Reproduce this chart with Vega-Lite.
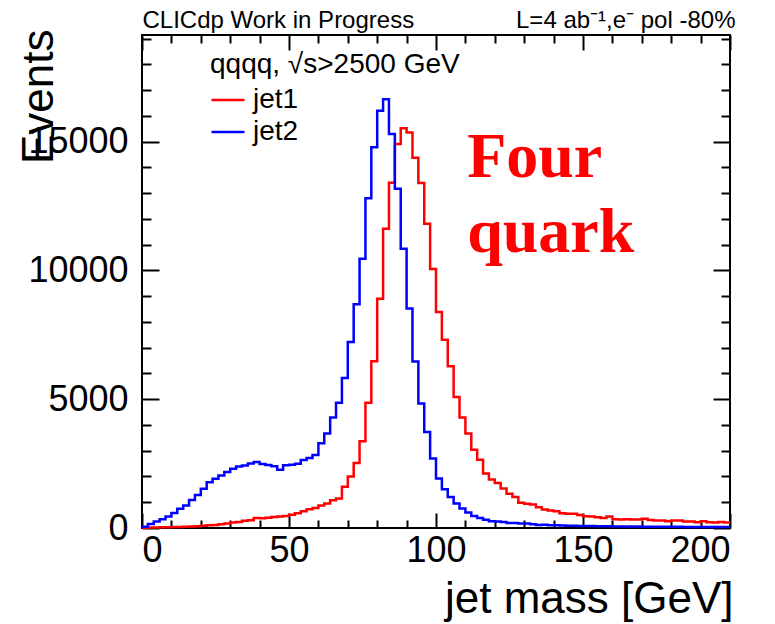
{
  "$schema": "https://vega.github.io/schema/vega-lite/v6.json",
  "width": 588,
  "height": 493,
  "autosize": {"type": "none"},
  "padding": {"left": 142, "top": 35, "right": 45, "bottom": 96},
  "background": "white",
  "config": {
    "view": {"stroke": "black", "strokeWidth": 2},
    "font": "Liberation Sans",
    "axis": {"grid": false, "domain": false, "tickColor": "black", "tickWidth": 2, "labelColor": "black", "titleColor": "black", "labelFont": "Liberation Sans", "titleFont": "Liberation Sans", "titleFontWeight": "normal"}
  },
  "datasets": {
    "jet1": [
      {"m":0,"n":10,"jet":"jet1"},{"m":2,"n":15,"jet":"jet1"},{"m":4,"n":20,"jet":"jet1"},{"m":6,"n":25,"jet":"jet1"},{"m":8,"n":30,"jet":"jet1"},
      {"m":10,"n":35,"jet":"jet1"},{"m":12,"n":40,"jet":"jet1"},{"m":14,"n":45,"jet":"jet1"},{"m":16,"n":60,"jet":"jet1"},{"m":18,"n":70,"jet":"jet1"},
      {"m":20,"n":90,"jet":"jet1"},{"m":22,"n":110,"jet":"jet1"},{"m":24,"n":120,"jet":"jet1"},{"m":26,"n":150,"jet":"jet1"},{"m":28,"n":170,"jet":"jet1"},
      {"m":30,"n":210,"jet":"jet1"},{"m":32,"n":230,"jet":"jet1"},{"m":34,"n":280,"jet":"jet1"},{"m":36,"n":300,"jet":"jet1"},{"m":38,"n":390,"jet":"jet1"},
      {"m":40,"n":380,"jet":"jet1"},{"m":42,"n":400,"jet":"jet1"},{"m":44,"n":430,"jet":"jet1"},{"m":46,"n":450,"jet":"jet1"},{"m":48,"n":470,"jet":"jet1"},
      {"m":50,"n":510,"jet":"jet1"},{"m":52,"n":570,"jet":"jet1"},{"m":54,"n":650,"jet":"jet1"},{"m":56,"n":730,"jet":"jet1"},{"m":58,"n":780,"jet":"jet1"},
      {"m":60,"n":870,"jet":"jet1"},{"m":62,"n":950,"jet":"jet1"},{"m":64,"n":1080,"jet":"jet1"},{"m":66,"n":1150,"jet":"jet1"},{"m":68,"n":1600,"jet":"jet1"},
      {"m":70,"n":2000,"jet":"jet1"},{"m":72,"n":2520,"jet":"jet1"},{"m":74,"n":3370,"jet":"jet1"},{"m":76,"n":4860,"jet":"jet1"},{"m":78,"n":6470,"jet":"jet1"},
      {"m":80,"n":8900,"jet":"jet1"},{"m":82,"n":11620,"jet":"jet1"},{"m":84,"n":13400,"jet":"jet1"},{"m":86,"n":14910,"jet":"jet1"},{"m":88,"n":15520,"jet":"jet1"},
      {"m":90,"n":15350,"jet":"jet1"},{"m":92,"n":14370,"jet":"jet1"},{"m":94,"n":13390,"jet":"jet1"},{"m":96,"n":11810,"jet":"jet1"},{"m":98,"n":10060,"jet":"jet1"},
      {"m":100,"n":8390,"jet":"jet1"},{"m":102,"n":7310,"jet":"jet1"},{"m":104,"n":6280,"jet":"jet1"},{"m":106,"n":5090,"jet":"jet1"},{"m":108,"n":4290,"jet":"jet1"},
      {"m":110,"n":3670,"jet":"jet1"},{"m":112,"n":3040,"jet":"jet1"},{"m":114,"n":2650,"jet":"jet1"},{"m":116,"n":2120,"jet":"jet1"},{"m":118,"n":1880,"jet":"jet1"},
      {"m":120,"n":1750,"jet":"jet1"},{"m":122,"n":1530,"jet":"jet1"},{"m":124,"n":1330,"jet":"jet1"},{"m":126,"n":1200,"jet":"jet1"},{"m":128,"n":980,"jet":"jet1"},
      {"m":130,"n":940,"jet":"jet1"},{"m":132,"n":915,"jet":"jet1"},{"m":134,"n":810,"jet":"jet1"},{"m":136,"n":720,"jet":"jet1"},{"m":138,"n":680,"jet":"jet1"},
      {"m":140,"n":650,"jet":"jet1"},{"m":142,"n":575,"jet":"jet1"},{"m":144,"n":550,"jet":"jet1"},{"m":146,"n":550,"jet":"jet1"},{"m":148,"n":500,"jet":"jet1"},
      {"m":150,"n":460,"jet":"jet1"},{"m":152,"n":445,"jet":"jet1"},{"m":154,"n":420,"jet":"jet1"},{"m":156,"n":390,"jet":"jet1"},{"m":158,"n":445,"jet":"jet1"},
      {"m":160,"n":340,"jet":"jet1"},{"m":162,"n":330,"jet":"jet1"},{"m":164,"n":340,"jet":"jet1"},{"m":166,"n":330,"jet":"jet1"},{"m":168,"n":330,"jet":"jet1"},
      {"m":170,"n":355,"jet":"jet1"},{"m":172,"n":315,"jet":"jet1"},{"m":174,"n":290,"jet":"jet1"},{"m":176,"n":290,"jet":"jet1"},{"m":178,"n":260,"jet":"jet1"},
      {"m":180,"n":290,"jet":"jet1"},{"m":182,"n":290,"jet":"jet1"},{"m":184,"n":250,"jet":"jet1"},{"m":186,"n":250,"jet":"jet1"},{"m":188,"n":220,"jet":"jet1"},
      {"m":190,"n":260,"jet":"jet1"},{"m":192,"n":220,"jet":"jet1"},{"m":194,"n":210,"jet":"jet1"},{"m":196,"n":235,"jet":"jet1"},{"m":198,"n":210,"jet":"jet1"},
      {"m":200,"n":210,"jet":"jet1"}
    ],
    "jet2": [
      {"m":0,"n":52,"jet":"jet2"},{"m":2,"n":160,"jet":"jet2"},{"m":4,"n":255,"jet":"jet2"},{"m":6,"n":340,"jet":"jet2"},{"m":8,"n":450,"jet":"jet2"},
      {"m":10,"n":580,"jet":"jet2"},{"m":12,"n":745,"jet":"jet2"},{"m":14,"n":875,"jet":"jet2"},{"m":16,"n":1090,"jet":"jet2"},{"m":18,"n":1280,"jet":"jet2"},
      {"m":20,"n":1520,"jet":"jet2"},{"m":22,"n":1780,"jet":"jet2"},{"m":24,"n":1910,"jet":"jet2"},{"m":26,"n":2040,"jet":"jet2"},{"m":28,"n":2170,"jet":"jet2"},
      {"m":30,"n":2300,"jet":"jet2"},{"m":32,"n":2390,"jet":"jet2"},{"m":34,"n":2430,"jet":"jet2"},{"m":36,"n":2500,"jet":"jet2"},{"m":38,"n":2560,"jet":"jet2"},
      {"m":40,"n":2480,"jet":"jet2"},{"m":42,"n":2450,"jet":"jet2"},{"m":44,"n":2400,"jet":"jet2"},{"m":46,"n":2260,"jet":"jet2"},{"m":48,"n":2440,"jet":"jet2"},
      {"m":50,"n":2460,"jet":"jet2"},{"m":52,"n":2490,"jet":"jet2"},{"m":54,"n":2640,"jet":"jet2"},{"m":56,"n":2720,"jet":"jet2"},{"m":58,"n":2830,"jet":"jet2"},
      {"m":60,"n":3290,"jet":"jet2"},{"m":62,"n":3670,"jet":"jet2"},{"m":64,"n":4290,"jet":"jet2"},{"m":66,"n":4860,"jet":"jet2"},{"m":68,"n":5820,"jet":"jet2"},
      {"m":70,"n":7220,"jet":"jet2"},{"m":72,"n":8690,"jet":"jet2"},{"m":74,"n":10450,"jet":"jet2"},{"m":76,"n":12800,"jet":"jet2"},{"m":78,"n":14780,"jet":"jet2"},
      {"m":80,"n":16200,"jet":"jet2"},{"m":82,"n":16650,"jet":"jet2"},{"m":84,"n":15300,"jet":"jet2"},{"m":86,"n":13170,"jet":"jet2"},{"m":88,"n":10840,"jet":"jet2"},
      {"m":90,"n":8520,"jet":"jet2"},{"m":92,"n":6460,"jet":"jet2"},{"m":94,"n":4830,"jet":"jet2"},{"m":96,"n":3730,"jet":"jet2"},{"m":98,"n":2700,"jet":"jet2"},
      {"m":100,"n":1925,"jet":"jet2"},{"m":102,"n":1500,"jet":"jet2"},{"m":104,"n":1200,"jet":"jet2"},{"m":106,"n":950,"jet":"jet2"},{"m":108,"n":760,"jet":"jet2"},
      {"m":110,"n":600,"jet":"jet2"},{"m":112,"n":470,"jet":"jet2"},{"m":114,"n":390,"jet":"jet2"},{"m":116,"n":320,"jet":"jet2"},{"m":118,"n":265,"jet":"jet2"},
      {"m":120,"n":250,"jet":"jet2"},{"m":122,"n":235,"jet":"jet2"},{"m":124,"n":195,"jet":"jet2"},{"m":126,"n":195,"jet":"jet2"},{"m":128,"n":170,"jet":"jet2"},
      {"m":130,"n":170,"jet":"jet2"},{"m":132,"n":145,"jet":"jet2"},{"m":134,"n":120,"jet":"jet2"},{"m":136,"n":130,"jet":"jet2"},{"m":138,"n":105,"jet":"jet2"},
      {"m":140,"n":105,"jet":"jet2"},{"m":142,"n":95,"jet":"jet2"},{"m":144,"n":90,"jet":"jet2"},{"m":146,"n":85,"jet":"jet2"},{"m":148,"n":80,"jet":"jet2"},
      {"m":150,"n":78,"jet":"jet2"},{"m":152,"n":75,"jet":"jet2"},{"m":154,"n":70,"jet":"jet2"},{"m":156,"n":68,"jet":"jet2"},{"m":158,"n":65,"jet":"jet2"},
      {"m":160,"n":62,"jet":"jet2"},{"m":162,"n":60,"jet":"jet2"},{"m":164,"n":58,"jet":"jet2"},{"m":166,"n":56,"jet":"jet2"},{"m":168,"n":55,"jet":"jet2"},
      {"m":170,"n":52,"jet":"jet2"},{"m":172,"n":50,"jet":"jet2"},{"m":174,"n":50,"jet":"jet2"},{"m":176,"n":48,"jet":"jet2"},{"m":178,"n":46,"jet":"jet2"},
      {"m":180,"n":45,"jet":"jet2"},{"m":182,"n":44,"jet":"jet2"},{"m":184,"n":43,"jet":"jet2"},{"m":186,"n":42,"jet":"jet2"},{"m":188,"n":41,"jet":"jet2"},
      {"m":190,"n":40,"jet":"jet2"},{"m":192,"n":40,"jet":"jet2"},{"m":194,"n":39,"jet":"jet2"},{"m":196,"n":38,"jet":"jet2"},{"m":198,"n":38,"jet":"jet2"},
      {"m":200,"n":38,"jet":"jet2"}
    ]
  },
  "layer": [
    {
      "data": {"name": "jet1"},
      "mark": {"type": "line", "interpolate": "step-after", "strokeWidth": 2.5},
      "encoding": {
        "x": {"field": "m", "type": "quantitative", "scale": {"domain": [0, 200], "nice": false, "zero": false},
          "axis": {"orient": "bottom", "values": [0, 50, 100, 150, 200], "tickSize": -15, "labelFontSize": 36, "labelPadding": 20, "format": "d",
            "title": "jet mass [GeV]", "titleFontSize": 44, "titleAnchor": "end", "titleAlign": "right", "titleBaseline": "alphabetic", "titleX": 591, "titleY": 84}},
        "y": {"field": "n", "type": "quantitative", "scale": {"domain": [0, 19140], "nice": false},
          "axis": {"orient": "left", "values": [0, 5000, 10000, 15000], "tickSize": -17, "labelFontSize": 36, "labelPadding": 31, "format": "d",
            "title": "Events", "titleFontSize": 44, "titleAngle": 270, "titleAnchor": "end", "titleAlign": "right", "titleBaseline": "alphabetic", "titleX": -90, "titleY": -6}},
        "color": {"field": "jet", "type": "nominal", "scale": {"domain": ["jet1", "jet2"], "range": ["#ff0000", "#0000ff"]},
          "legend": {"orient": "none", "legendX": 68, "legendY": 16, "title": "qqqq, √s>2500 GeV", "titleFontSize": 28, "titleFontWeight": "normal", "titleColor": "black", "titleFont": "Liberation Sans", "titlePadding": 3, "titleLimit": 600,
            "labelFontSize": 28, "labelColor": "black", "labelFont": "Liberation Sans", "labelOffset": 7, "labelLimit": 300, "symbolType": "stroke", "symbolSize": 1089, "symbolStrokeWidth": 2.5, "rowPadding": 0, "padding": 0}}
      }
    },
    {
      "data": {"name": "jet2"},
      "mark": {"type": "line", "interpolate": "step-after", "strokeWidth": 2.5},
      "encoding": {
        "x": {"field": "m", "type": "quantitative", "scale": {"domain": [0, 200], "nice": false, "zero": false},
          "axis": {"orient": "bottom", "values": [10, 20, 30, 40, 60, 70, 80, 90, 110, 120, 130, 140, 160, 170, 180, 190], "tickSize": -8, "labels": false, "title": null}},
        "y": {"field": "n", "type": "quantitative", "scale": {"domain": [0, 19140], "nice": false},
          "axis": {"orient": "left", "values": [1000, 2000, 3000, 4000, 6000, 7000, 8000, 9000, 11000, 12000, 13000, 14000, 16000, 17000, 18000, 19000], "tickSize": -9, "labels": false, "title": null}},
        "color": {"field": "jet", "type": "nominal", "scale": {"domain": ["jet1", "jet2"], "range": ["#ff0000", "#0000ff"]}}
      }
    },
    {
      "data": {"name": "jet1"},
      "mark": {"type": "line", "interpolate": "step-after", "strokeOpacity": 0},
      "encoding": {
        "x": {"field": "m", "type": "quantitative", "scale": {"domain": [0, 200], "nice": false, "zero": false},
          "axis": {"orient": "top", "values": [0, 50, 100, 150, 200], "tickSize": -15, "labels": false,
            "title": "CLICdp Work in Progress", "titleFontSize": 24, "titleAnchor": "start", "titleAlign": "left", "titleBaseline": "alphabetic", "titleX": 0, "titleY": -8}},
        "y": {"field": "n", "type": "quantitative", "scale": {"domain": [0, 19140], "nice": false},
          "axis": {"orient": "right", "values": [0, 5000, 10000, 15000], "tickSize": -17, "labels": false, "title": null}}
      }
    },
    {
      "data": {"name": "jet2"},
      "mark": {"type": "line", "interpolate": "step-after", "strokeOpacity": 0},
      "encoding": {
        "x": {"field": "m", "type": "quantitative", "scale": {"domain": [0, 200], "nice": false, "zero": false},
          "axis": {"orient": "top", "values": [10, 20, 30, 40, 60, 70, 80, 90, 110, 120, 130, 140, 160, 170, 180, 190], "tickSize": -8, "labels": false,
            "title": "L=4 ab⁻¹,e⁻ pol -80%", "titleFontSize": 24, "titleAnchor": "end", "titleAlign": "right", "titleBaseline": "alphabetic", "titleX": 593, "titleY": -8}},
        "y": {"field": "n", "type": "quantitative", "scale": {"domain": [0, 19140], "nice": false},
          "axis": {"orient": "right", "values": [1000, 2000, 3000, 4000, 6000, 7000, 8000, 9000, 11000, 12000, 13000, 14000, 16000, 17000, 18000, 19000], "tickSize": -9, "labels": false, "title": null}}
      }
    },
    {
      "data": {"values": [{"label": "Four quark"}]},
      "mark": {"type": "text", "font": "Liberation Serif", "fontWeight": "bold", "fontSize": 64, "color": "#ff0000", "align": "left", "baseline": "alphabetic", "lineBreak": " ", "lineHeight": 75},
      "encoding": {
        "x": {"datum": 110.6, "type": "quantitative", "scale": {"domain": [0, 200], "nice": false, "zero": false}, "axis": null},
        "y": {"datum": 13630, "type": "quantitative", "scale": {"domain": [0, 19140], "nice": false}, "axis": null},
        "text": {"field": "label"}
      }
    }
  ],
  "resolve": {"axis": {"x": "independent", "y": "independent"}}
}
